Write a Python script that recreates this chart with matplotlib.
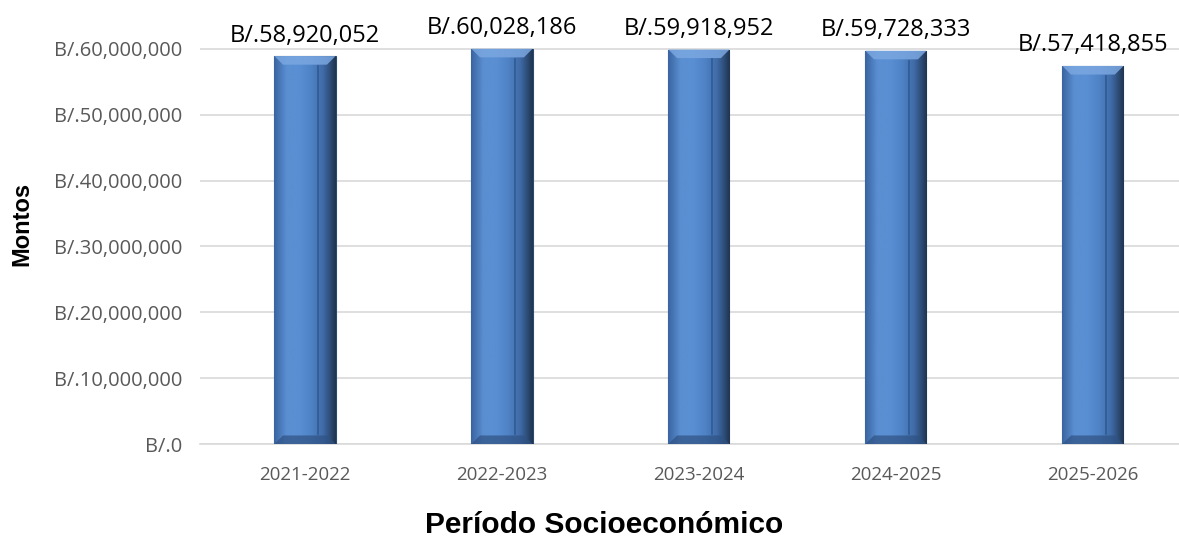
"""Montos por período socioeconómico — barras con relieve."""

import matplotlib

matplotlib.use("Agg")
import matplotlib.pyplot as plt  # noqa: E402
import numpy as np  # noqa: E402
from matplotlib.colors import LinearSegmentedColormap  # noqa: E402
from matplotlib.patches import Polygon  # noqa: E402
from matplotlib.ticker import FuncFormatter  # noqa: E402

periodos = ["2021-2022", "2022-2023", "2023-2024", "2024-2025", "2025-2026"]
montos = [58920052, 60028186, 59918952, 59728333, 57418855]
y_ticks = [0, 10_000_000, 20_000_000, 30_000_000, 40_000_000, 50_000_000, 60_000_000]

plt.rcParams["font.family"] = ["Open Sans", "DejaVu Sans"]

W, H = 1179, 540
fig = plt.figure(figsize=(W / 100, H / 100), dpi=100)
ax = fig.add_axes([200 / W, 96 / H, 979 / W, 444 / H])

x = np.arange(len(periodos))
bar_w = 0.31
bars = ax.bar(x, montos, width=bar_w, color="#4a7ebb", edgecolor="#2c4a70",
              linewidth=0.8, zorder=3)

# relieve: degradado horizontal recortado a cada barra
cmap = LinearSegmentedColormap.from_list(
    "bevel", ["#3a64a0", "#5a8fd2", "#5b8fd4", "#4f83c6", "#3f6aa6", "#1f3450"])
grad = np.linspace(0, 1, 256).reshape(1, -1)
for rect in bars:
    x0, y0 = rect.get_x(), rect.get_y()
    w, h = rect.get_width(), rect.get_height()
    im = ax.imshow(grad, cmap=cmap, aspect="auto", extent=(x0, x0 + w, y0, y0 + h),
                   zorder=3.5, interpolation="bicubic")
    im.set_clip_path(rect)
    # bisel superior (trapecio) e inferior
    bev = 0.14 * w
    top = Polygon([(x0, y0 + h), (x0 + w, y0 + h), (x0 + w - bev, y0 + h - 1_300_000),
                   (x0 + bev, y0 + h - 1_300_000)], closed=True,
                  facecolor="#7ba7e0", edgecolor="none", alpha=0.85, zorder=4)
    bot = Polygon([(x0, y0), (x0 + w, y0), (x0 + w - bev, y0 + 1_300_000),
                   (x0 + bev, y0 + 1_300_000)], closed=True,
                  facecolor="#2f5283", edgecolor="none", alpha=0.7, zorder=4)
    ax.add_patch(top)
    ax.add_patch(bot)
    ax.plot([x0 + w * 0.72] * 2, [y0 + 1_500_000, y0 + h - 1_500_000],
            color="#2f5a94", linewidth=1.2, zorder=4.5)
    ax.text(x0 + w / 2, h + 1_300_000, f"B/.{h:,.0f}", ha="center", va="bottom",
            fontsize=17, color="black", zorder=5)

ax.set_xlim(-0.533, 4.437)
ax.set_ylim(0, 67_440_000)
ax.set_yticks(y_ticks)
ax.yaxis.set_major_formatter(FuncFormatter(lambda v, _: f"B/.{v:,.0f}" if v else "B/.0"))
ax.set_xticks(x)
ax.set_xticklabels(periodos)
ax.tick_params(axis="both", length=0, labelsize=14.5, labelcolor="#595959")
ax.tick_params(axis="x", pad=16, labelsize=13.5)
ax.tick_params(axis="y", pad=13)
ax.grid(axis="y", color="#d9d9d9", linewidth=1.2, zorder=0)
ax.set_axisbelow(True)
for side in ["top", "right", "left"]:
    ax.spines[side].set_visible(False)
ax.spines["bottom"].set_color("#d9d9d9")
ax.spines["bottom"].set_linewidth(1.2)

fig.text(604 / W, 1 - 525 / H, "Período Socioeconómico", ha="center", va="center",
         fontsize=21.5, fontweight="bold", family="Liberation Sans")
fig.text(22 / W, 1 - 224 / H, "Montos", ha="center", va="center", rotation=90,
         fontsize=17, fontweight="bold", family="Liberation Sans")

fig.savefig("out.png", dpi=100)
